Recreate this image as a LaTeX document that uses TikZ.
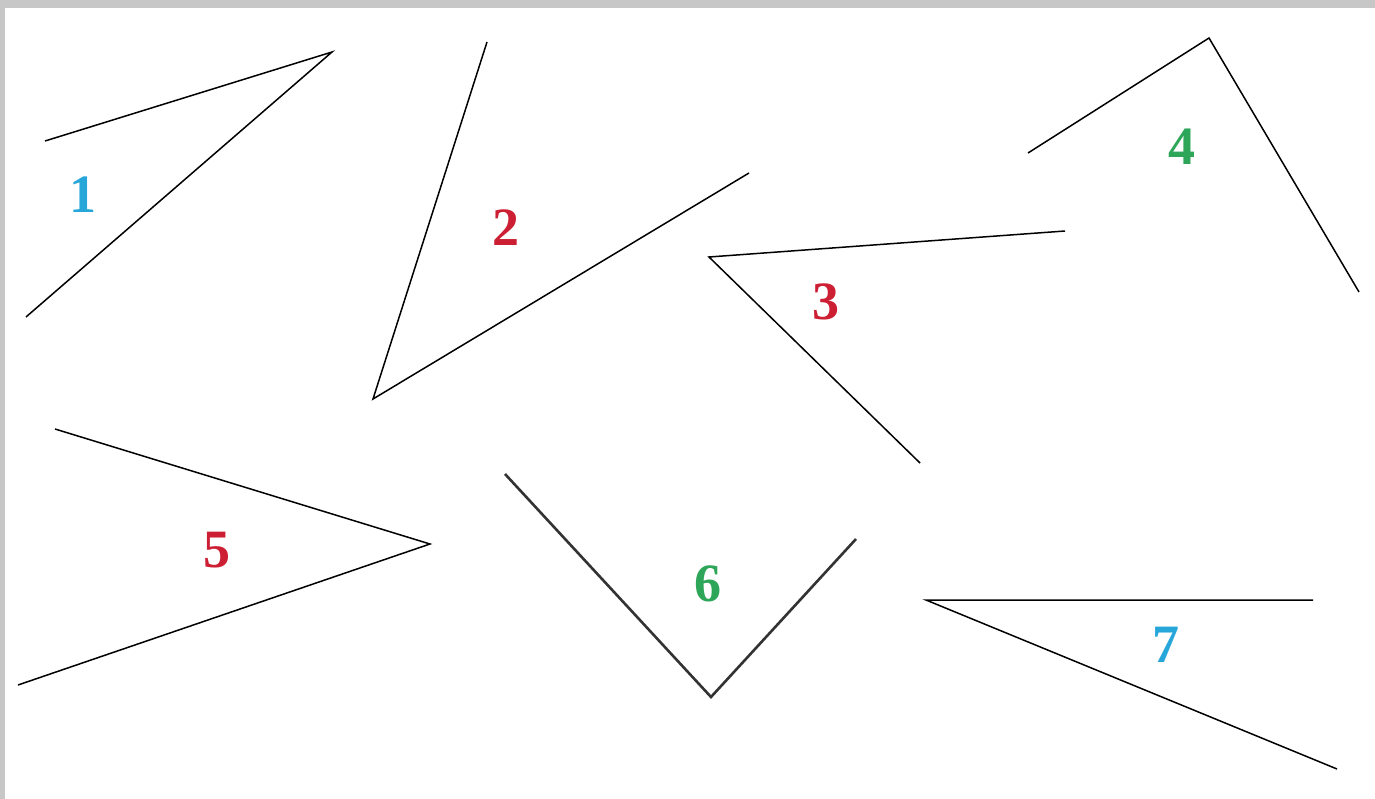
\documentclass[tikz,border=0pt]{standalone}
\usepackage{fontspec}
\setmainfont{Liberation Serif}
\definecolor{azul}{rgb}{0.15,0.65,0.85}
\definecolor{verm}{rgb}{0.80,0.12,0.20}
\definecolor{verde}{rgb}{0.18,0.65,0.35}
\definecolor{moldura}{rgb}{0.78,0.78,0.78}
\tikzset{num/.style={font=\fontsize{54}{54}\selectfont\bfseries}}
\begin{document}
\begin{tikzpicture}[x=1pt,y=-1pt]
            \useasboundingbox (0,0) rectangle (1375,799);
            \fill[white] (0,0) rectangle (1375,799);
            \fill[moldura] (0,0) rectangle (1375,8);
            \fill[moldura] (0,0) rectangle (5,799);

            % angulos
            \draw[black, line width=1.5pt] (45,141) -- (332,52) -- (26,317);
            \draw[black, line width=1.5pt] (487,42) -- (373,399) -- (749,173);
            \draw[black, line width=1.5pt] (1065,231) -- (709,257) -- (920,463);
            \draw[black, line width=1.5pt] (1028,153) -- (1209,38) -- (1359,292);
            \draw[black, line width=1.5pt] (55,429) -- (430,544) -- (18,685);
            \draw[black!80, line width=2.6pt] (505,474) -- (711,697) -- (856,539);
            \draw[black, line width=1.5pt] (1313,600) -- (926,600) -- (1337,769);

            % numeros
            \node[num, azul] (n1) at (83,195) {1};
            \node[num, verm] (n2) at (506,228) {2};
            \node[num, verm] (n3) at (826,302) {3};
            \node[num, verde] (n4) at (1182,147) {4};
            \node[num, verm] (n5) at (217,550) {5};
            \node[num, verde] (n6) at (708,584) {6};
            \node[num, azul] (n7) at (1166,645) {7};
        \end{tikzpicture}
\end{document}
